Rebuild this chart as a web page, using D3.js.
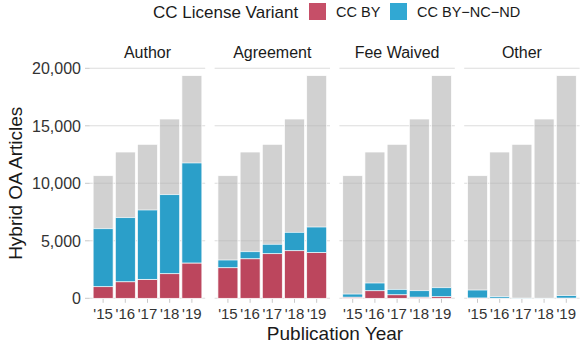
<!DOCTYPE html>
<html>
<head>
<meta charset="utf-8">
<script src="https://cdn.jsdelivr.net/npm/d3@7"></script>
<style>
  body { margin: 0; background: #fff; }
  svg text { font-family: "Liberation Sans", Arial, Helvetica, sans-serif; }
</style>
</head>
<body>
<div id="chart"></div>
<script>
// data
var years = ["2015", "2016", "2017", "2018", "2019"];
var yearLabels = ["'15", "'16", "'17", "'18", "'19"];
var facets = ["Author", "Agreement", "Fee Waived", "Other"];
var yTicks = [0, 5000, 10000, 15000, 20000];

// all hybrid OA articles per year (grey bars, same in every facet)
var totals = [10660, 12720, 13390, 15590, 19360];

// per facet, per year
var ccBy = [
  [1010, 1440, 1650, 2140, 3070],   // Author
  [2660, 3440, 3880, 4140, 3970],   // Agreement
  [100, 660, 310, 100, 140],        // Fee Waived
  [30, 10, 0, 0, 20]                // Other
];
var ccByNcNd = [
  [5040, 5570, 6030, 6870, 8700],
  [670, 610, 820, 1600, 2230],
  [270, 670, 470, 560, 780],
  [690, 130, 20, 10, 210]
];

var variants = ["CC BY", "CC BY\u2212NC\u2212ND"];
var colors = ["#BC465D", "#2B9FC9"];
var keyColors = ["#C64F68", "#31A8D3"];

var w = 581, h = 343;
var panelX0 = 89.8, panelW = 115.4, panelGap = 9.4;
var plotTop = 68.3, plotBottom = 298.3;

var svg = d3.select("#chart").append("svg")
  .attr("width", w)
  .attr("height", h);

var y = d3.scaleLinear().domain([0, 20000]).range([plotBottom, plotTop]);

// legend
var legend = svg.append("g");
legend.append("text")
  .attr("x", 153).attr("y", 17.6)
  .attr("font-size", 17)
  .attr("fill", "#1a1a1a")
  .text("CC License Variant");
var keyX = [309, 390];
variants.forEach(function(v, i) {
  legend.append("rect")
    .attr("x", keyX[i]).attr("y", 3)
    .attr("width", 17).attr("height", 17)
    .attr("fill", keyColors[i]);
  legend.append("text")
    .attr("x", keyX[i] + 27).attr("y", 17)
    .attr("font-size", 14.5)
    .attr("fill", "#1a1a1a")
    .text(v);
});

// y axis labels (only left panel)
svg.append("g").selectAll("text")
  .data(yTicks)
  .enter()
  .append("text")
  .attr("x", 81)
  .attr("y", d => y(d))
  .attr("dy", "0.36em")
  .attr("text-anchor", "end")
  .attr("font-size", 16)
  .attr("fill", "#333")
  .text(d => d3.format(",")(d));

svg.append("g").selectAll("line")
  .data(yTicks)
  .enter()
  .append("line")
  .attr("x1", 85).attr("x2", panelX0)
  .attr("y1", d => y(d)).attr("y2", d => y(d))
  .attr("stroke", "#c8c8c8")
  .attr("stroke-width", 1);

facets.forEach(function(f, fi) {
  var px = panelX0 + fi * (panelW + panelGap);
  var g = svg.append("g").attr("transform", "translate(" + px + ",0)");

  var x = d3.scaleBand()
    .domain(years)
    .range([0, panelW])
    .paddingInner(0.1)
    .paddingOuter(0.15);

  // strip
  g.append("text")
    .attr("x", panelW / 2).attr("y", 58)
    .attr("text-anchor", "middle")
    .attr("font-size", 16)
    .attr("fill", "#1a1a1a")
    .text(f);

  // grid
  g.append("g").selectAll("line")
    .data(yTicks)
    .enter()
    .append("line")
    .attr("x1", 0).attr("x2", panelW)
    .attr("y1", d => y(d)).attr("y2", d => y(d))
    .attr("stroke", "#dcdcdc")
    .attr("stroke-width", 1.1);

  // x ticks
  g.append("g").selectAll("line")
    .data(years)
    .enter()
    .append("line")
    .attr("x1", d => x(d) + x.bandwidth() / 2)
    .attr("x2", d => x(d) + x.bandwidth() / 2)
    .attr("y1", plotBottom).attr("y2", plotBottom + 4.5)
    .attr("stroke", "#c8c8c8")
    .attr("stroke-width", 1);

  // total bars
  g.append("g").selectAll("rect")
    .data(years)
    .enter()
    .append("rect")
    .attr("x", d => x(d))
    .attr("width", x.bandwidth())
    .attr("y", (d, i) => y(totals[i]))
    .attr("height", (d, i) => plotBottom - y(totals[i]))
    .attr("fill", "#b3b3b3")
    .attr("fill-opacity", 0.6)
    .attr("stroke", "#fff")
    .attr("stroke-width", 0.7);

  // stacked license bars
  var rows = years.map(function(yr, i) {
    return { year: yr, by: ccBy[fi][i], ncnd: ccByNcNd[fi][i] };
  });
  var stack = d3.stack().keys(["by", "ncnd"])(rows);

  g.append("g").selectAll("g")
    .data(stack)
    .enter()
    .append("g")
    .attr("fill", (d, i) => colors[i])
    .selectAll("rect")
    .data(d => d.filter(s => s[1] > s[0]))
    .enter()
    .append("rect")
    .attr("x", d => x(d.data.year))
    .attr("width", x.bandwidth())
    .attr("y", d => y(d[1]))
    .attr("height", d => y(d[0]) - y(d[1]))
    .attr("stroke", "#fff")
    .attr("stroke-width", 0.7);

  // x labels
  g.append("g").selectAll("text")
    .data(years)
    .enter()
    .append("text")
    .attr("x", d => x(d) + x.bandwidth() / 2)
    .attr("y", 318.5)
    .attr("text-anchor", "middle")
    .attr("font-size", 15)
    .attr("fill", "#333")
    .text((d, i) => yearLabels[i]);
});

// axis titles
svg.append("text")
  .attr("x", 335).attr("y", 340)
  .attr("text-anchor", "middle")
  .attr("font-size", 19)
  .attr("fill", "#1a1a1a")
  .text("Publication Year");

svg.append("text")
  .attr("transform", "translate(22," + ((plotTop + plotBottom) / 2) + ") rotate(-90)")
  .attr("text-anchor", "middle")
  .attr("font-size", 19)
  .attr("fill", "#1a1a1a")
  .text("Hybrid OA Articles");
</script>
</body>
</html>
